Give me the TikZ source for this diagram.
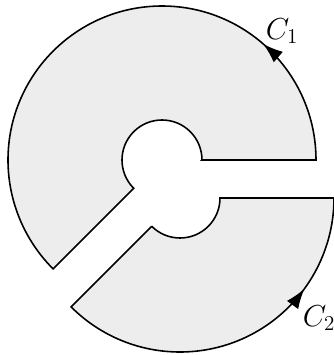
\documentclass[tikz,border=0pt]{standalone}
\usepackage{xcolor}
\definecolor{RegionFill}{HTML}{EDEDED}
\usepackage{tikz}
\usetikzlibrary{arrows.meta,decorations.markings,calc}

\begin{document}
\begin{tikzpicture}[
  region/.style={draw=black,fill=RegionFill,line width=0.9pt,line join=miter},
  ccwmark/.style={decoration={markings,mark=at position #1 with {\arrow{Latex[length=4mm,width=2.8mm]}}},postaction={decorate}},
  curvelabel/.style={font=\LARGE}
]
  \useasboundingbox (-3.24,3.2) rectangle (3.42,-3.9);
  % upper piece, bounded by C1
  \draw[region,ccwmark=4.91cm] (0:0.8) -- (0:3.08) arc[start angle=0,end angle=225,radius=3.08]
    -- (225:0.8) arc[start angle=225,end angle=0,radius=0.8] -- cycle;
  % lower piece, bounded by C2
  \coordinate (o2) at (0.36,-0.76);
  \draw[region,ccwmark=7.59cm] ($(o2)+(225:0.8)$) -- ($(o2)+(225:3.08)$) arc[start angle=225,end angle=360,radius=3.08]
    -- ($(o2)+(0:0.8)$) arc[start angle=360,end angle=225,radius=0.8] -- cycle;
  \node[curvelabel] (c1) at (2.4,2.58) {$C_1$};
  \node[curvelabel] (c2) at (3.14,-3.16) {$C_2$};
\end{tikzpicture}
\end{document}
